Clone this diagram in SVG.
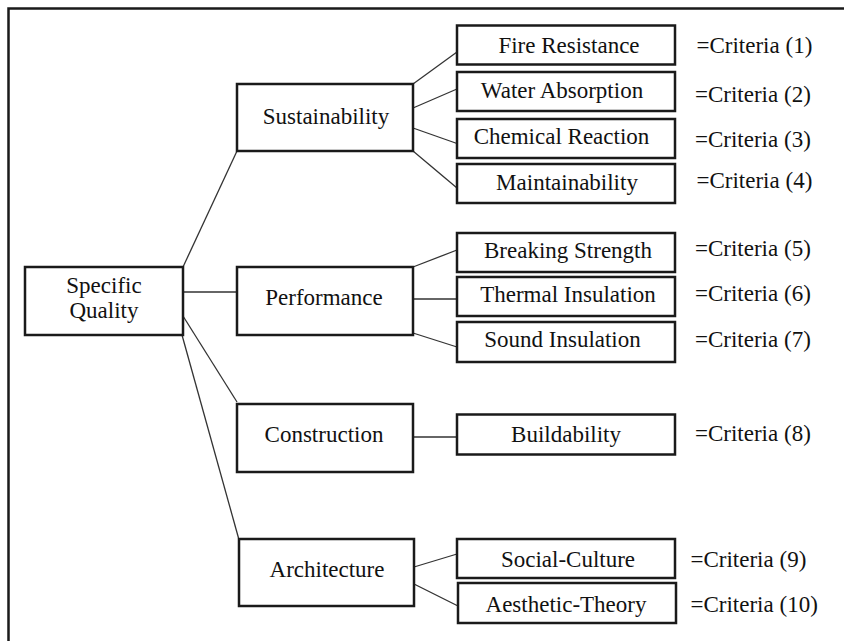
<svg xmlns="http://www.w3.org/2000/svg" width="844" height="641" viewBox="0 0 844 641">
<style>
.bg{fill:#fff}
.frame{fill:none;stroke:#1a1a1a;stroke-width:2.5}
.box{fill:#fff;stroke:#1a1a1a;stroke-width:2.5}
text{font-family:'Liberation Serif','Times New Roman',Times,serif;font-size:23px;fill:#111}
.lbl{text-anchor:middle}
.conn line{stroke:#333;stroke-width:1.3}
</style>
<rect class="bg" x="0" y="0" width="844" height="641"/>
<path class="frame" d="M8.5,645 V8.5 H850"/>
<g class="conn" id="connectors">
<line x1="183" y1="267" x2="237" y2="151"/>
<line x1="183" y1="292" x2="237" y2="292"/>
<line x1="183" y1="316" x2="237" y2="402"/>
<line x1="182" y1="335" x2="238.5" y2="538"/>
<line x1="413" y1="84" x2="457" y2="52"/>
<line x1="413" y1="108" x2="457" y2="89"/>
<line x1="413" y1="128" x2="457" y2="143.5"/>
<line x1="413" y1="151" x2="457" y2="188"/>
<line x1="413" y1="267" x2="457" y2="250"/>
<line x1="413" y1="299" x2="457" y2="299"/>
<line x1="413" y1="333" x2="457" y2="347"/>
<line x1="413" y1="437" x2="457" y2="437"/>
<line x1="414" y1="567" x2="457" y2="554"/>
<line x1="414" y1="584" x2="458" y2="606"/>
</g>
<g id="specific-quality"><rect class="box" x="25" y="267" width="158" height="68"/><text class="lbl" x="104" y="293">Specific</text><text class="lbl" x="104" y="318">Quality</text></g>
<g id="sustainability"><rect class="box" x="237" y="84" width="176" height="67"/><text class="lbl" x="326" y="124">Sustainability</text></g>
<g id="performance"><rect class="box" x="237" y="267" width="176" height="68"/><text class="lbl" x="324" y="305">Performance</text></g>
<g id="construction"><rect class="box" x="237" y="404" width="176" height="68"/><text class="lbl" x="324" y="442">Construction</text></g>
<g id="architecture"><rect class="box" x="239" y="539" width="175" height="67"/><text class="lbl" x="327" y="577">Architecture</text></g>
<g id="fire-resistance"><rect class="box" x="457" y="25.5" width="218" height="39"/><text class="lbl" x="569" y="53">Fire Resistance</text></g>
<g id="water-absorption"><rect class="box" x="457" y="72" width="218" height="39"/><text class="lbl" x="562" y="97.5">Water Absorption</text></g>
<g id="chemical-reaction"><rect class="box" x="457" y="119" width="218" height="39"/><text class="lbl" x="561.5" y="143.5">Chemical Reaction</text></g>
<g id="maintainability"><rect class="box" x="457" y="164" width="218" height="39"/><text class="lbl" x="567" y="189.5">Maintainability</text></g>
<g id="breaking-strength"><rect class="box" x="457" y="233" width="218" height="39"/><text class="lbl" x="568" y="257.5">Breaking Strength</text></g>
<g id="thermal-insulation"><rect class="box" x="457" y="277" width="218" height="39"/><text class="lbl" x="568" y="302">Thermal Insulation</text></g>
<g id="sound-insulation"><rect class="box" x="457" y="322" width="218" height="40"/><text class="lbl" x="562.5" y="347">Sound Insulation</text></g>
<g id="buildability"><rect class="box" x="457" y="414.5" width="218" height="40"/><text class="lbl" x="566" y="442">Buildability</text></g>
<g id="social-culture"><rect class="box" x="457" y="539" width="218" height="39"/><text class="lbl" x="568" y="567">Social-Culture</text></g>
<g id="aesthetic-theory"><rect class="box" x="458" y="583" width="218" height="40"/><text class="lbl" x="566" y="612">Aesthetic-Theory</text></g>
<g id="criteria-labels">
<text x="696.5" y="53">=Criteria (1)</text>
<text x="695" y="102">=Criteria (2)</text>
<text x="695" y="146.5">=Criteria (3)</text>
<text x="696.5" y="188">=Criteria (4)</text>
<text x="695" y="256">=Criteria (5)</text>
<text x="695" y="301">=Criteria (6)</text>
<text x="695" y="347">=Criteria (7)</text>
<text x="695" y="441">=Criteria (8)</text>
<text x="690.5" y="566.5">=Criteria (9)</text>
<text x="690.5" y="612">=Criteria (10)</text>
</g>
</svg>
